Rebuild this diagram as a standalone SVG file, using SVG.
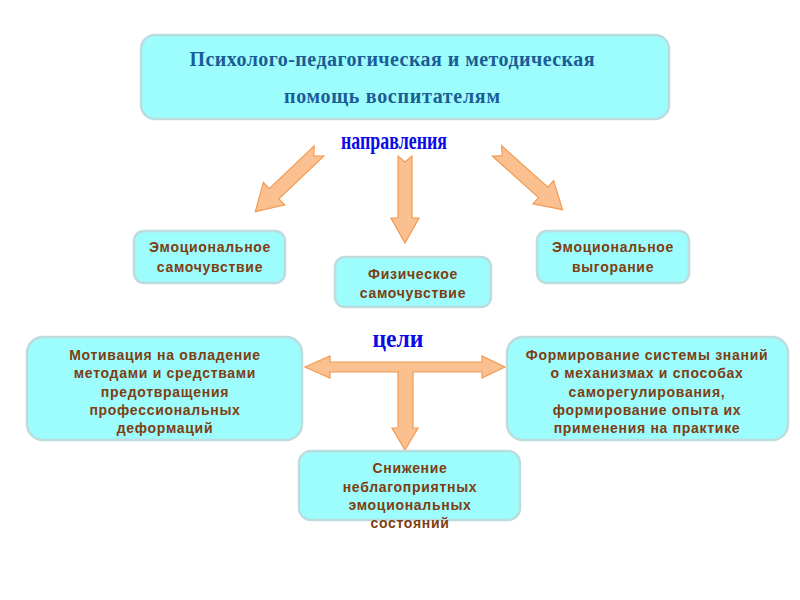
<svg xmlns="http://www.w3.org/2000/svg" width="800" height="600" viewBox="0 0 800 600">
<style>
.box{fill:#9DFCFC;stroke:#BCDCDF;stroke-width:2.5}
.arrow{fill:#FAC08F;stroke:#F39A52;stroke-width:1.2;stroke-linejoin:miter}
.t{font-family:"Liberation Sans",Arial,sans-serif;font-weight:bold;font-size:14px;fill:#7E3E12;text-anchor:middle;letter-spacing:0.7px}
.title{font-family:"Liberation Serif","Times New Roman",serif;font-weight:bold;font-size:20px;fill:#1C5C96;text-anchor:middle}
.hdr{font-family:"Liberation Serif","Times New Roman",serif;font-weight:bold;font-size:26px;fill:#0A0AE8;text-anchor:middle;stroke:#ffffff;stroke-width:0.8;paint-order:stroke}
</style>
<defs>
<polygon id="diag" points="0,-7 62,-7 62,-15.5 88,0 62,15.5 62,7 0,7 7,0"/>
<polygon id="vert" points="0,-7 62,-7 62,-14 87,0 62,14 62,7 0,7 6,0"/>
</defs>
<rect width="800" height="600" fill="#ffffff"/>

<g id="title">
<rect class="box" x="141" y="35" width="528" height="84" rx="14"/>
<text class="title" x="392" y="66" textLength="405" lengthAdjust="spacing">Психолого-педагогическая и методическая</text>
<text class="title" x="392" y="103" textLength="216" lengthAdjust="spacing">помощь  воспитателям</text>
</g>

<g id="label-directions">
<text class="hdr" x="394" y="149" textLength="106" lengthAdjust="spacingAndGlyphs">направления</text>
</g>

<g id="connectors">
<use href="#diag" class="arrow" transform="translate(319,151) rotate(136.4)"/>
<use href="#vert" class="arrow" transform="translate(405,156) rotate(90)"/>
<use href="#diag" class="arrow" transform="translate(497,151) rotate(41.8)"/>
<path class="arrow" d="M305,367 L330,356 L330,362 L482,362 L482,356 L505,367 L482,378 L482,372 L413,372 L413,428 L418,428 L405,450 L392,428 L398,428 L398,372 L330,372 L330,378 Z"/>
</g>

<g id="node-emotional-wellbeing">
<rect class="box" x="134" y="231" width="151" height="52" rx="10"/>
<text class="t" x="210" y="252">Эмоциональное</text>
<text class="t" x="210" y="272">самочувствие</text>
</g>

<g id="node-physical-wellbeing">
<rect class="box" x="335" y="257" width="156" height="50" rx="10"/>
<text class="t" x="413" y="279">Физическое</text>
<text class="t" x="413" y="298">самочувствие</text>
</g>

<g id="node-burnout">
<rect class="box" x="537" y="231" width="152" height="52" rx="10"/>
<text class="t" x="613" y="252">Эмоциональное</text>
<text class="t" x="613" y="272">выгорание</text>
</g>

<g id="label-goals">
<text class="hdr" x="398" y="347" textLength="51" lengthAdjust="spacingAndGlyphs">цели</text>
</g>

<g id="node-motivation">
<rect class="box" x="27" y="337" width="275" height="103" rx="16"/>
<text class="t" x="165" y="360">Мотивация на овладение</text>
<text class="t" x="165" y="378">методами и средствами</text>
<text class="t" x="165" y="397">предотвращения</text>
<text class="t" x="165" y="415">профессиональных</text>
<text class="t" x="165" y="433">деформаций</text>
</g>

<g id="node-knowledge">
<rect class="box" x="507" y="337" width="281" height="103" rx="16"/>
<text class="t" x="647" y="360">Формирование системы знаний</text>
<text class="t" x="647" y="378">о механизмах и способах</text>
<text class="t" x="647" y="397">саморегулирования,</text>
<text class="t" x="647" y="415">формирование опыта их</text>
<text class="t" x="647" y="433">применения на практике</text>
</g>

<g id="node-reduction">
<rect class="box" x="299" y="451" width="221" height="69" rx="12"/>
<text class="t" x="410" y="473">Снижение</text>
<text class="t" x="410" y="492">неблагоприятных</text>
<text class="t" x="410" y="510">эмоциональных</text>
<text class="t" x="410" y="528">состояний</text>
</g>
</svg>
